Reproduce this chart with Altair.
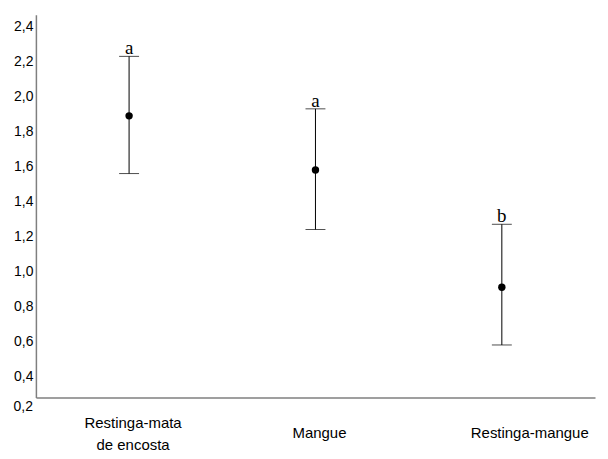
import altair as alt
import pandas as pd

categories = ["Restinga-mata", "Mangue", "Restinga-mangue"]
means = [1.89, 1.58, 0.91]
lower = [1.56, 1.24, 0.58]
upper = [2.23, 1.93, 1.27]
letters = ["a", "a", "b"]
y_ticks = [0.4, 0.6, 0.8, 1.0, 1.2, 1.4, 1.6, 1.8, 2.0, 2.2, 2.4]

df = pd.DataFrame({"cat": categories, "mean": means, "lo": lower, "hi": upper, "letter": letters})

yscale = alt.Scale(domain=[0.28, 2.468], nice=False, zero=False)
xenc = alt.X(
    "cat:N",
    sort=categories,
    scale=alt.Scale(paddingInner=0, paddingOuter=0),
    axis=alt.Axis(
        title=None,
        labelAngle=0,
        labelFont="Liberation Sans",
        labelFontSize=15,
        labelColor="black",
        labelBaseline="middle",
        labelPadding={"condition": {"test": "datum.value == 'Restinga-mata'", "value": 25}, "value": 35},
        labelOffset={"condition": {"test": "datum.value == 'Restinga-mangue'", "value": 28}, "value": 4},
        labelLineHeight=22,
        labelOverlap=False,
        labelExpr="datum.value == 'Restinga-mata' ? ['Restinga-mata', 'de encosta'] : datum.label",
        ticks=False,
        domainColor="#7f7f7f",
        domainWidth=1.5,
    ),
)
yenc_axis = alt.Axis(
    title=None,
    values=y_ticks,
    tickCount=30,
    labelExpr="replace(format(datum.value, '.1f'), '.', ',')",
    labelFont="Liberation Sans",
    labelFontSize=14,
    labelColor="black",
    labelPadding=3,
    labelOverlap=False,
    ticks=False,
    grid=False,
    domainColor="#7f7f7f",
    domainWidth=1.5,
)

base = alt.Chart(df)

rules = base.mark_rule(color="black", strokeWidth=1).encode(
    x=xenc,
    y=alt.Y("lo:Q", scale=yscale, axis=yenc_axis),
    y2="hi:Q",
)
cap_hi = base.mark_tick(color="black", thickness=1, size=20).encode(x=xenc, y=alt.Y("hi:Q", scale=yscale))
cap_lo = base.mark_tick(color="black", thickness=1, size=20).encode(x=xenc, y=alt.Y("lo:Q", scale=yscale))
pts = base.mark_point(filled=True, color="black", size=55, opacity=1).encode(
    x=xenc, y=alt.Y("mean:Q", scale=yscale)
)
txt = base.mark_text(font="Liberation Serif", fontSize=19, baseline="bottom", dy=2, color="black").encode(
    x=xenc, y=alt.Y("hi:Q", scale=yscale), text="letter:N"
)
zero_lbl = alt.Chart(pd.DataFrame({"v": [0.2], "t": ["0,2"]})).mark_text(
    font="Liberation Sans", fontSize=14, align="right", baseline="alphabetic", color="black"
).encode(x=alt.value(-3), y=alt.Y("v:Q", scale=yscale), text="t:N")

chart = (
    alt.layer(rules, cap_hi, cap_lo, pts, txt, zero_lbl)
    .properties(width=561, height=384, background="white",
                padding={"left": 5, "top": 6, "right": 5, "bottom": 5})
    .configure_view(strokeWidth=0, stroke="transparent")
)
chart.save("out.html", embed_options={"renderer": "svg", "actions": False})
